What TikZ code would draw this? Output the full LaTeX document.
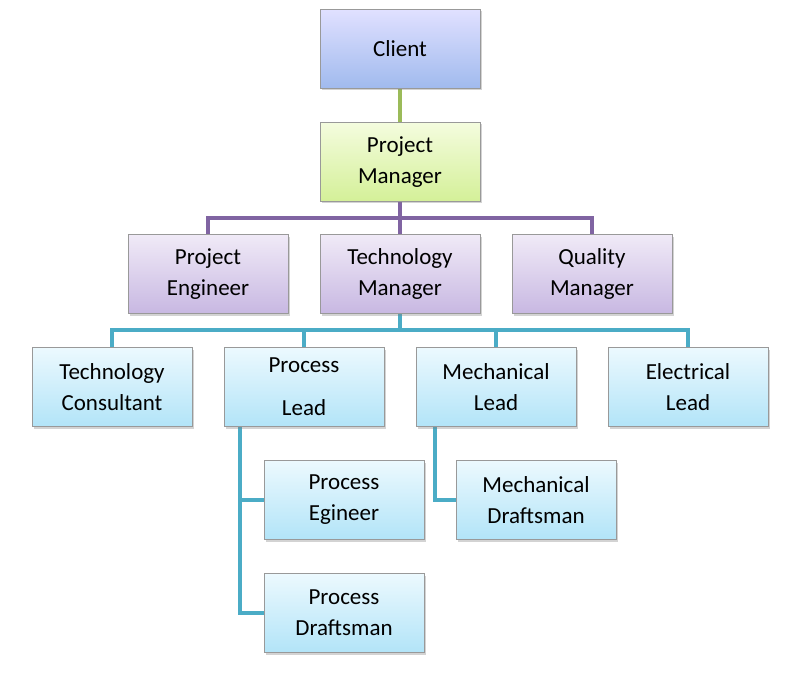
\documentclass[tikz,border=0pt]{standalone}
\usepackage{fontspec}
\setmainfont{Carlito}
\usetikzlibrary{shadows}
\definecolor{gl}{HTML}{9BBB59}
\definecolor{pl}{HTML}{8064A2}
\definecolor{tl}{HTML}{4BACC6}
\tikzset{
 base/.style={draw=gray!80, line width=0.8pt, minimum width=160pt, minimum height=79pt, align=center, font=\fontsize{23}{31}\selectfont, inner sep=0pt, drop shadow={shadow xshift=2pt, shadow yshift=-2pt, opacity=0.35}},
 bluebox/.style={base, top color=blue!12!white, bottom color={rgb,255:red,160;green,186;blue,238}},
 greenbox/.style={base, top color={rgb,255:red,244;green,252;blue,222}, bottom color={rgb,255:red,212;green,240;blue,152}},
 purplebox/.style={base, top color={rgb,255:red,240;green,234;blue,247}, bottom color={rgb,255:red,200;green,184;blue,226}},
 tealbox/.style={base, top color={rgb,255:red,236;green,249;blue,254}, bottom color={rgb,255:red,178;green,228;blue,248}},
 gline/.style={gl, line width=4pt},
 pline/.style={pl, line width=4pt},
 tline/.style={tl, line width=4pt},
}
\begin{document}
\begin{tikzpicture}[x=1pt,y=-1pt]
\useasboundingbox (0,0) rectangle (785,682);
% connectors first
\coordinate (pmb) at (400,218);
\coordinate (tmb) at (400,330);
\draw[gline] (400,49) -- (400,162);
\draw[pline] (400,162) -- (pmb);
\draw[pline] (208,274) -- (208,218) -- (592,218) -- (592,274);
\draw[pline] (pmb) -- (400,274);
\draw[tline] (400,274) -- (tmb);
\draw[tline] (112,387) -- (112,330) -- (688,330) -- (688,387);
\draw[tline] (304,387) -- (304,330);
\draw[tline] (496,387) -- (496,330);
\draw[tline] (240,420) -- (240,613) -- (300,613);
\draw[tline] (240,500) -- (300,500);
\draw[tline] (435,420) -- (435,500) -- (490,500);
% nodes
\node[bluebox] (c) at (400,49) {Client};
\node[greenbox] (pm) at (400,162) {Project\\Manager};
\node[purplebox] (pe) at (208,274) {Project\\Engineer};
\node[purplebox] (tm) at (400,274) {Technology\\Manager};
\node[purplebox] (qm) at (592,274) {Quality\\Manager};
\node[tealbox] (tc) at (112,387) {Technology\\Consultant};
\node[tealbox, font=\fontsize{23}{43}\selectfont] (pl) at (304,387) {Process\\Lead};
\node[tealbox] (ml) at (496,387) {Mechanical\\Lead};
\node[tealbox] (el) at (688,387) {Electrical\\Lead};
\node[tealbox] (pg) at (344,500) {Process\\Egineer};
\node[tealbox] (md) at (536,500) {Mechanical\\Draftsman};
\node[tealbox] (pd) at (344,613) {Process\\Draftsman};
\end{tikzpicture}
\end{document}
